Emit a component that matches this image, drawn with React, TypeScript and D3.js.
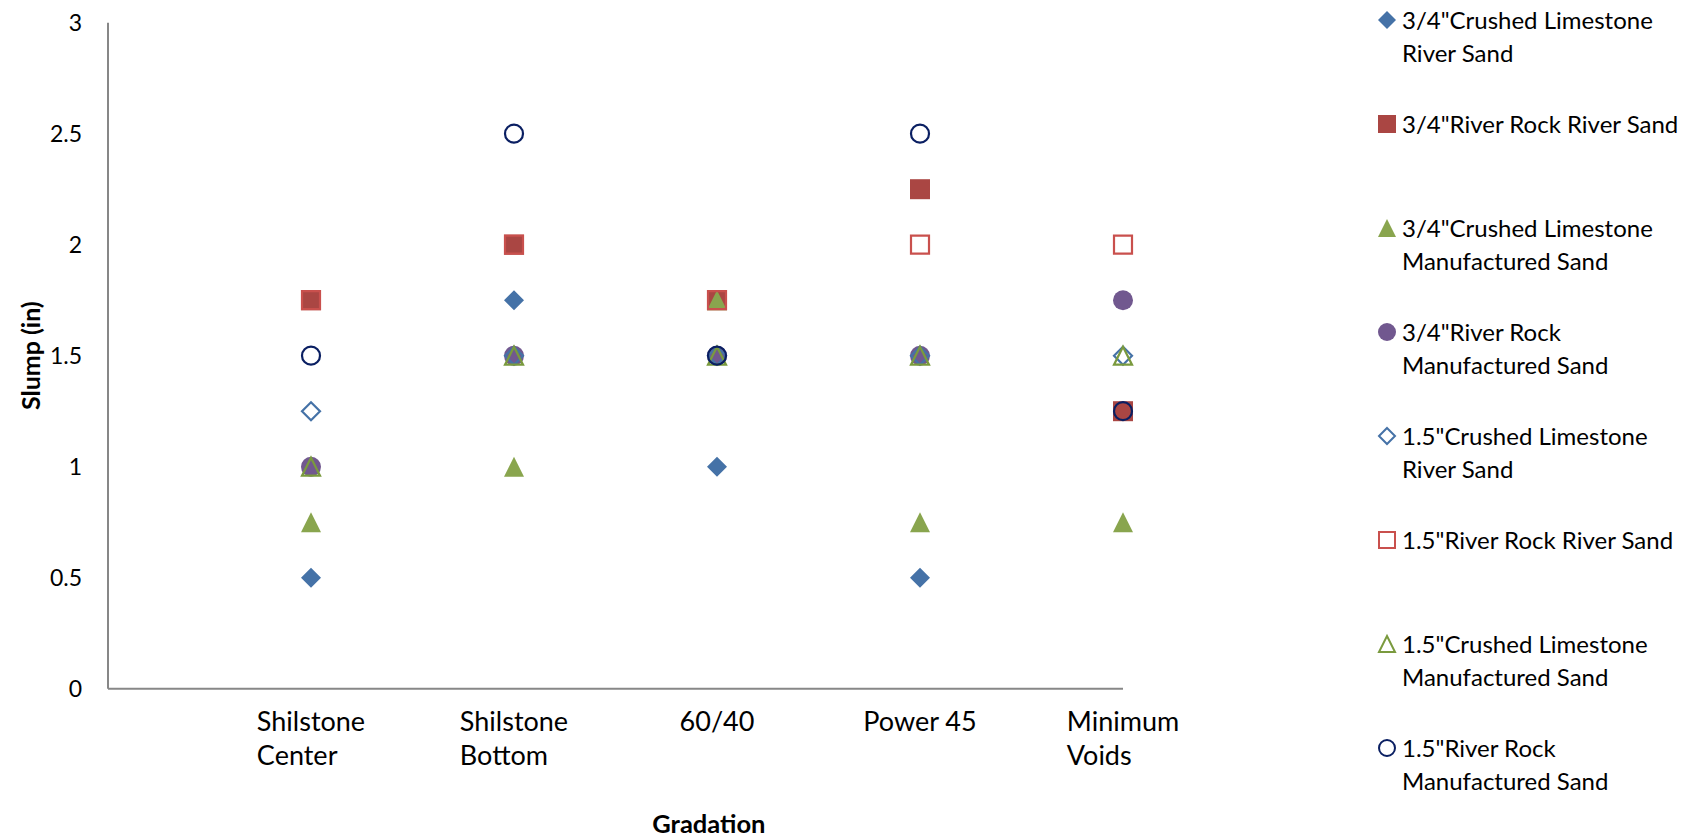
import React, { useEffect, useRef } from "react";
import * as d3 from "d3";

// ---- data ----
const categoryLines: string[][] = [
  ["Shilstone", "Center"],
  ["Shilstone", "Bottom"],
  ["60/40"],
  ["Power 45"],
  ["Minimum", "Voids"],
];
const categoryX = [1, 2, 3, 4, 5];
const yTicks = [0, 0.5, 1, 1.5, 2, 2.5, 3];

const crushed34River = [0.5, 1.75, 1.0, 0.5, 1.25];
const riverRock34River = [1.75, 2.0, 1.75, 2.25, 1.25];
const crushed34Manuf = [0.75, 1.0, 1.75, 0.75, 0.75];
const riverRock34Manuf = [1.0, 1.5, 1.5, 1.5, 1.75];
const crushed15River = [1.25, 1.5, 1.5, 1.5, 1.5];
const riverRock15River = [1.75, 2.0, 1.75, 2.0, 2.0];
const crushed15Manuf = [1.0, 1.5, 1.5, 1.5, 1.5];
const riverRock15Manuf = [1.5, 2.5, 1.5, 2.5, 1.25];

const seriesLabels: string[][] = [
  ['3/4"Crushed Limestone', "River Sand"],
  ['3/4"River Rock River Sand'],
  ['3/4"Crushed Limestone', "Manufactured Sand"],
  ['3/4"River Rock', "Manufactured Sand"],
  ['1.5"Crushed Limestone', "River Sand"],
  ['1.5"River Rock River Sand'],
  ['1.5"Crushed Limestone', "Manufactured Sand"],
  ['1.5"River Rock', "Manufactured Sand"],
];

type Sty = { shape: string; filled: boolean; color: string };
const seriesStyles: Sty[] = [
  { shape: "diamond", filled: true, color: "#4572A7" },
  { shape: "square", filled: true, color: "#AA4643" },
  { shape: "triangle", filled: true, color: "#89A54E" },
  { shape: "circle", filled: true, color: "#71588F" },
  { shape: "diamond", filled: false, color: "#4572A7" },
  { shape: "square", filled: false, color: "#C9504D" },
  { shape: "triangle", filled: false, color: "#7A9A3E" },
  { shape: "circle", filled: false, color: "#0A1F62" },
];
const seriesValues = [
  crushed34River,
  riverRock34River,
  crushed34Manuf,
  riverRock34Manuf,
  crushed15River,
  riverRock15River,
  crushed15Manuf,
  riverRock15Manuf,
];

function markerPath(shape: string, cx: number, cy: number, r: number): string {
  const p = d3.path();
  if (shape === "square") {
    p.rect(cx - r, cy - r, 2 * r, 2 * r);
  } else if (shape === "diamond") {
    p.moveTo(cx, cy - r);
    p.lineTo(cx + r, cy);
    p.lineTo(cx, cy + r);
    p.lineTo(cx - r, cy);
    p.closePath();
  } else if (shape === "triangle") {
    p.moveTo(cx, cy - r);
    p.lineTo(cx + r, cy + r);
    p.lineTo(cx - r, cy + r);
    p.closePath();
  } else {
    p.moveTo(cx + r, cy);
    p.arc(cx, cy, r, 0, Math.PI * 2);
    p.closePath();
  }
  return p.toString();
}

const FONT = "Lato, 'Open Sans', sans-serif";

export default function App() {
  const ref = useRef<SVGSVGElement>(null);

  useEffect(() => {
    const svg = d3.select(ref.current);
    svg.selectAll("*").remove();

    const x = d3.scaleLinear().domain([0, 5]).range([108, 1123]);
    const y = d3.scaleLinear().domain([0, 3]).range([688.7, 22.7]);

    // axes lines
    svg
      .append("line")
      .attr("x1", x(0))
      .attr("x2", x(0))
      .attr("y1", y(3))
      .attr("y2", y(0))
      .attr("stroke", "#878787")
      .attr("stroke-width", 2);
    svg
      .append("line")
      .attr("x1", x(0))
      .attr("x2", x(5))
      .attr("y1", y(0))
      .attr("y2", y(0))
      .attr("stroke", "#878787")
      .attr("stroke-width", 2);

    // y tick labels
    svg
      .append("g")
      .selectAll("text")
      .data(yTicks)
      .join("text")
      .attr("x", 82)
      .attr("y", (d) => y(d) + 8.5)
      .attr("text-anchor", "end")
      .attr("font-family", FONT)
      .attr("font-size", 23)
      .attr("fill", "#000")
      .text((d) => String(d));

    // category labels (left aligned block centered on category)
    categoryLines.forEach((lines, i) => {
      const t = svg
        .append("text")
        .attr("font-family", FONT)
        .attr("font-size", 27)
        .attr("fill", "#000");
      lines.forEach((ln, j) => {
        t.append("tspan")
          .attr("x", 0)
          .attr("y", 731 + j * 34)
          .text(ln);
      });
      const w = (t.node() as SVGTextElement).getBBox().width;
      const left = x(categoryX[i]) - w / 2;
      t.selectAll("tspan").attr("x", left);
    });

    // axis titles
    svg
      .append("text")
      .attr("x", x(2.96))
      .attr("y", 833)
      .attr("text-anchor", "middle")
      .attr("font-family", FONT)
      .attr("font-weight", "bold")
      .attr("font-size", 25.5)
      .text("Gradation");
    svg
      .append("text")
      .attr("transform", `translate(40, ${y(1.5)}) rotate(-90)`)
      .attr("text-anchor", "middle")
      .attr("font-family", FONT)
      .attr("font-weight", "bold")
      .attr("font-size", 25)
      .text("Slump (in)");

    // points
    seriesValues.forEach((vals, si) => {
      const st = seriesStyles[si];
      const g = svg.append("g");
      vals.forEach((v, i) => {
        if (v == null) return;
        const cx = x(categoryX[i]);
        const cy = y(v);
        const r = st.filled ? 10 : 9;
        g.append("path")
          .attr("d", markerPath(st.shape, cx, cy, r))
          .attr("fill", st.filled ? st.color : "none")
          .attr("stroke", st.filled ? "none" : st.color)
          .attr("stroke-width", st.filled ? 0 : 2.2);
      });
    });

    // legend
    const legendX = 1387;
    const legendTop = 20;
    const legendStep = 104;
    seriesLabels.forEach((lines, si) => {
      const st = seriesStyles[si];
      const cy = legendTop + si * legendStep;
      const r = st.filled ? 9 : 8;
      svg
        .append("path")
        .attr("d", markerPath(st.shape, legendX, cy, r))
        .attr("fill", st.filled ? st.color : "none")
        .attr("stroke", st.filled ? "none" : st.color)
        .attr("stroke-width", st.filled ? 0 : 2);
      const t = svg
        .append("text")
        .attr("font-family", FONT)
        .attr("font-size", 24)
        .attr("fill", "#000");
      lines.forEach((ln, j) => {
        t.append("tspan")
          .attr("x", legendX + 15)
          .attr("y", cy + 8.5 + j * 33)
          .text(ln);
      });
    });
  }, []);

  return (
    <svg
      ref={ref}
      width={1694}
      height={838}
      style={{ position: "absolute", left: 0, top: 0, background: "#fff" }}
    />
  );
}
